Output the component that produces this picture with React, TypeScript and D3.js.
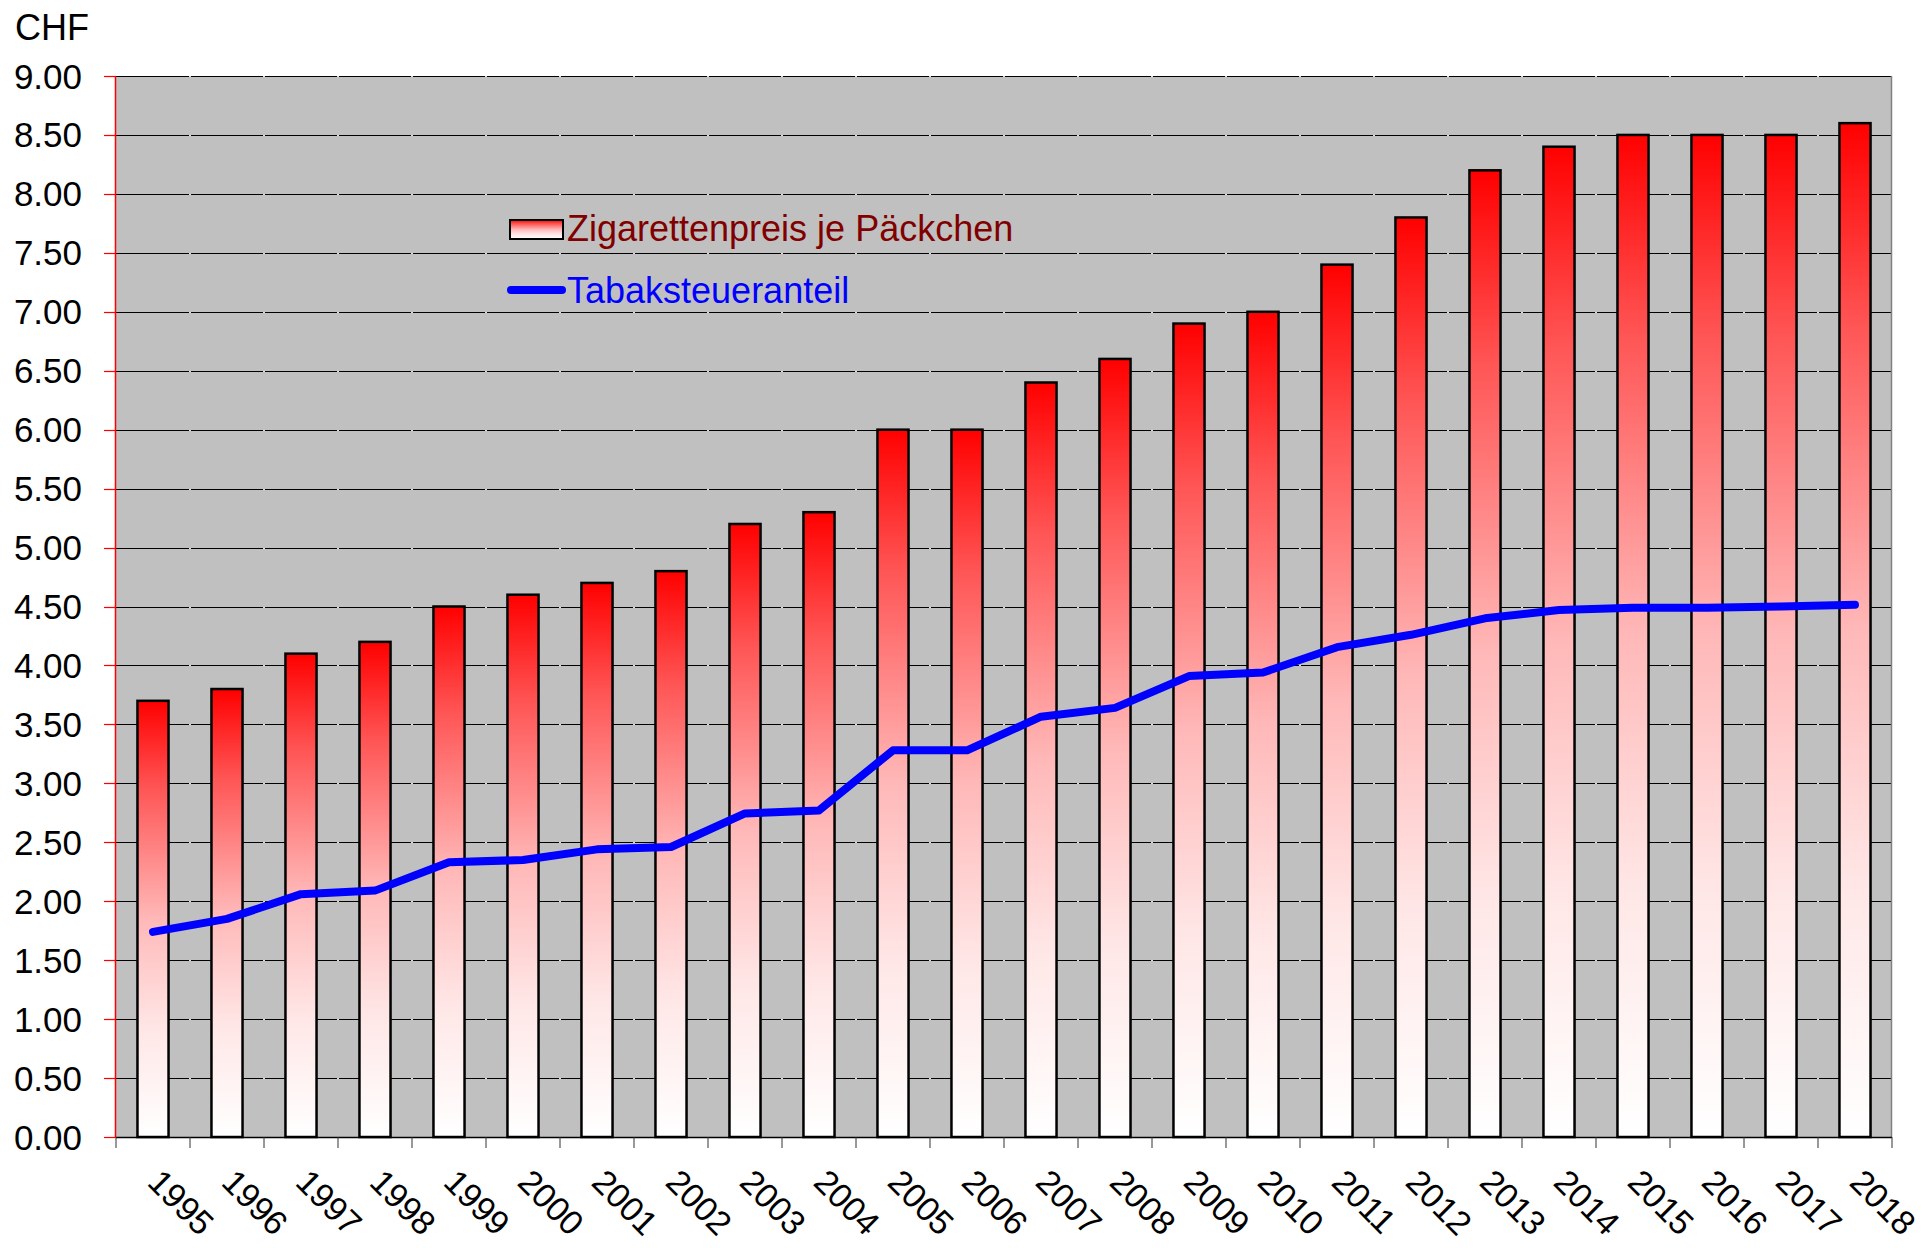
import React from "react";
import * as d3 from "d3";

const years = ["1995","1996","1997","1998","1999","2000","2001","2002","2003","2004","2005","2006","2007","2008","2009","2010","2011","2012","2013","2014","2015","2016","2017","2018"];
const prices = [3.7,3.8,4.1,4.2,4.5,4.6,4.7,4.8,5.2,5.3,6.0,6.0,6.4,6.6,6.9,7.0,7.4,7.8,8.2,8.4,8.5,8.5,8.5,8.6];
const taxShare = [1.74,1.85,2.06,2.09,2.33,2.35,2.44,2.46,2.745,2.77,3.28,3.28,3.565,3.64,3.91,3.94,4.155,4.26,4.40,4.47,4.49,4.49,4.50,4.515];
const yTicks = [0,0.5,1,1.5,2,2.5,3,3.5,4,4.5,5,5.5,6,6.5,7,7.5,8,8.5,9];
const seriesNames = ["Zigarettenpreis je Päckchen","Tabaksteueranteil"];
const unitLabel = "CHF";

const W = 1925, H = 1248;
const L = 116, R = 1892, T = 76, B = 1137;
const FONT = "'Liberation Sans', Arial, sans-serif";

export default function App() {
  const x = d3.scaleBand<string>().domain(years).range([L, R]).paddingInner(0.58).paddingOuter(0.29);
  const y = d3.scaleLinear().domain([0, 9]).range([B, T]);
  const step = x.step();
  const line = d3.line<number>()
    .x((_, i) => (x(years[i]) as number) + x.bandwidth() / 2)
    .y((d) => y(d));
  const boundaries = d3.range(years.length + 1).map((i) => L + i * step);

  return (
    <svg width={W} height={H} style={{ position: "absolute", left: 0, top: 0, background: "#fff" }} fontFamily={FONT}>
      <defs>
        <linearGradient id="barGrad" x1="0" y1="0" x2="0" y2="1">
          <stop offset="0" stopColor="#ff0000" />
          <stop offset="0.2" stopColor="rgb(255,85,85)" />
          <stop offset="0.5" stopColor="rgb(255,184,184)" />
          <stop offset="0.75" stopColor="rgb(255,230,230)" />
          <stop offset="1" stopColor="#ffffff" />
        </linearGradient>
      </defs>
      <rect x={L} y={T} width={R - L} height={B - T} fill="#c0c0c0" />
      {yTicks.map((t) => (
        <line key={"g" + t} x1={L} x2={R} y1={Math.round(y(t)) + 0.5} y2={Math.round(y(t)) + 0.5} stroke="#000" strokeWidth={1} />
      ))}
      {boundaries.slice(1, -1).map((bx, i) =>
        yTicks.slice(1).map((t) => (
          <line key={"d" + i + "-" + t} x1={bx - 1} x2={bx + 1} y1={Math.round(y(t)) + 0.5} y2={Math.round(y(t)) + 0.5} stroke="#dcdcdc" strokeWidth={1} />
        ))
      )}
      <line x1={R - 0.5} x2={R - 0.5} y1={T} y2={B} stroke="#808080" strokeWidth={1.5} />
      {prices.map((v, i) => (
        <rect key={"b" + i} x={x(years[i])} y={y(v)} width={x.bandwidth()} height={B - y(v)} fill="url(#barGrad)" stroke="#000" strokeWidth={2.5} />
      ))}
      <path d={line(taxShare) || ""} fill="none" stroke="#0000ff" strokeWidth={8} strokeLinejoin="round" strokeLinecap="round" />
      {/* x axis */}
      <line x1={L} x2={R} y1={B + 0.5} y2={B + 0.5} stroke="#000" strokeWidth={1.5} />
      {boundaries.map((bx, i) => (
        <line key={"xt" + i} x1={bx} x2={bx} y1={B} y2={B + 11} stroke="#333" strokeWidth={1} />
      ))}
      {years.map((yr) => (
        <text key={"xl" + yr} transform={`translate(${(x(yr) as number) + x.bandwidth() / 2 - 7},${1184}) rotate(45)`} fontSize={34} fill="#000">{yr}</text>
      ))}
      {/* y axis */}
      <line x1={L - 0.5} x2={L - 0.5} y1={T} y2={B} stroke="#ff0000" strokeWidth={1.5} />
      {yTicks.map((t) => (
        <g key={"yt" + t}>
          <line x1={104} x2={L} y1={Math.round(y(t)) + 0.5} y2={Math.round(y(t)) + 0.5} stroke="#ff0000" strokeWidth={1.2} />
          <text x={82} y={y(t) + 12.5} textAnchor="end" fontSize={35} fill="#000">{t.toFixed(2)}</text>
        </g>
      ))}
      <text x={15} y={40} fontSize={36} fill="#000">{unitLabel}</text>
      {/* legend */}
      <rect x={510} y={220} width={53} height={19} fill="url(#barGrad)" stroke="#000" strokeWidth={2} />
      <text x={567} y={241} fontSize={36} fill="#800000">{seriesNames[0]}</text>
      <line x1={511} x2={562} y1={290} y2={290} stroke="#0000ff" strokeWidth={8} strokeLinecap="round" />
      <text x={567} y={303} fontSize={36} fill="#0000ff">{seriesNames[1]}</text>
    </svg>
  );
}
